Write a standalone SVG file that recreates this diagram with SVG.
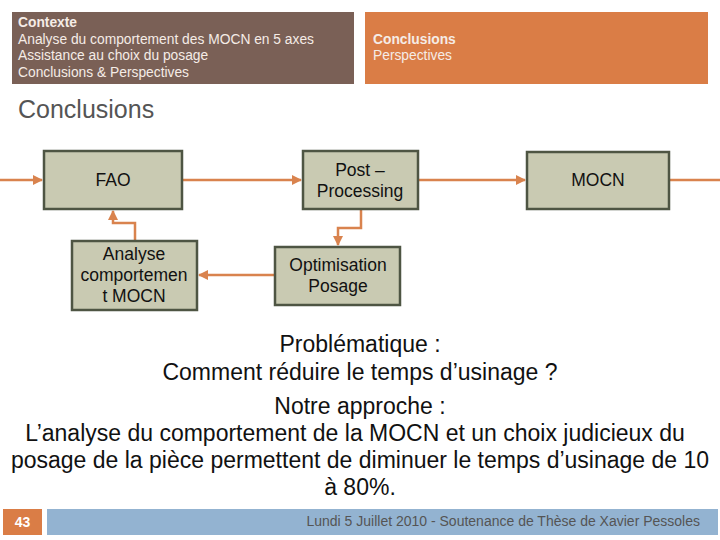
<svg xmlns="http://www.w3.org/2000/svg" width="720" height="540" viewBox="0 0 720 540">
<defs>
<marker id="ah" viewBox="0 0 10 10" refX="9" refY="5" markerWidth="4" markerHeight="4" orient="auto" markerUnits="strokeWidth">
<path d="M0,0 L10,5 L0,10 Z" fill="#d9834e"/>
</marker>
<style>
.hdr{font-family:"Liberation Sans",Arial,sans-serif;font-size:13.8px;fill:#f5ece6}
.b{font-weight:bold}
.node rect{fill:#c9cab2;stroke:#4e5543;stroke-width:2.5}
.node text{font-family:"Liberation Sans",Arial,sans-serif;font-size:17.5px;fill:#111;text-anchor:middle}
.conn path{fill:none;stroke:#d9834e;stroke-width:2.5}
.body{font-family:"Liberation Sans",Arial,sans-serif;font-size:23px;fill:#111;text-anchor:middle}
</style>
</defs>
<rect width="720" height="540" fill="#ffffff"/>
<g id="header-left">
<rect x="12" y="12" width="342" height="72" fill="#7a6056"/>
<text class="hdr b" x="18" y="27">Contexte</text>
<text class="hdr" x="18" y="44">Analyse du comportement des MOCN en 5 axes</text>
<text class="hdr" x="18" y="60">Assistance au choix du posage</text>
<text class="hdr" x="18" y="77">Conclusions &amp; Perspectives</text>
</g>
<g id="header-right">
<rect x="365" y="12" width="343" height="72" fill="#da7d46"/>
<text class="hdr b" x="373" y="44">Conclusions</text>
<text class="hdr" x="373" y="60">Perspectives</text>
</g>
<text id="title" x="18" y="118" font-family="'Liberation Sans',Arial,sans-serif" font-size="25" fill="#555">Conclusions</text>
<g class="conn" id="connectors">
<path d="M0,180 H42" marker-end="url(#ah)"/>
<path d="M182,180 H301" marker-end="url(#ah)"/>
<path d="M418,180 H525" marker-end="url(#ah)"/>
<path d="M669,180 H720"/>
<path d="M361,209 V228 H338 V245" marker-end="url(#ah)"/>
<path d="M275,275 H199" marker-end="url(#ah)"/>
<path d="M135,241 V223 H113 V211" marker-end="url(#ah)"/>
</g>
<g class="node" id="fao">
<rect x="44" y="151" width="138" height="58"/>
<text x="113" y="186">FAO</text>
</g>
<g class="node" id="post">
<rect x="303" y="151" width="115" height="58"/>
<text x="360" y="176">Post –</text>
<text x="360" y="197">Processing</text>
</g>
<g class="node" id="mocn">
<rect x="527" y="152" width="142" height="57"/>
<text x="598" y="186">MOCN</text>
</g>
<g class="node" id="analyse">
<rect x="72" y="241" width="125" height="69"/>
<text x="134" y="260">Analyse</text>
<text x="134" y="281">comportemen</text>
<text x="134" y="302">t MOCN</text>
</g>
<g class="node" id="optim">
<rect x="275" y="247" width="125" height="58"/>
<text x="338" y="271">Optimisation</text>
<text x="338" y="292">Posage</text>
</g>
<g id="body">
<text class="body" x="360" y="352">Problématique :</text>
<text class="body" x="360" y="380">Comment réduire le temps d’usinage ?</text>
<text class="body" x="360" y="414">Notre approche :</text>
<text class="body" x="355" y="441">L’analyse du comportement de la MOCN et un choix judicieux du</text>
<text class="body" x="360" y="468">posage de la pièce permettent de diminuer le temps d’usinage de 10</text>
<text class="body" x="360" y="495">à 80%.</text>
</g>
<g id="footer">
<rect x="3" y="509" width="39" height="26" fill="#da7d46"/>
<text x="22.5" y="527" font-family="'Liberation Sans',Arial,sans-serif" font-size="14" font-weight="bold" fill="#fff" text-anchor="middle">43</text>
<rect x="47" y="509" width="671" height="26" fill="#93b3d1"/>
<text x="700" y="526" font-family="'Liberation Sans',Arial,sans-serif" font-size="14" fill="#555" text-anchor="end">Lundi 5 Juillet 2010 - Soutenance de Thèse de Xavier Pessoles</text>
</g>
</svg>
